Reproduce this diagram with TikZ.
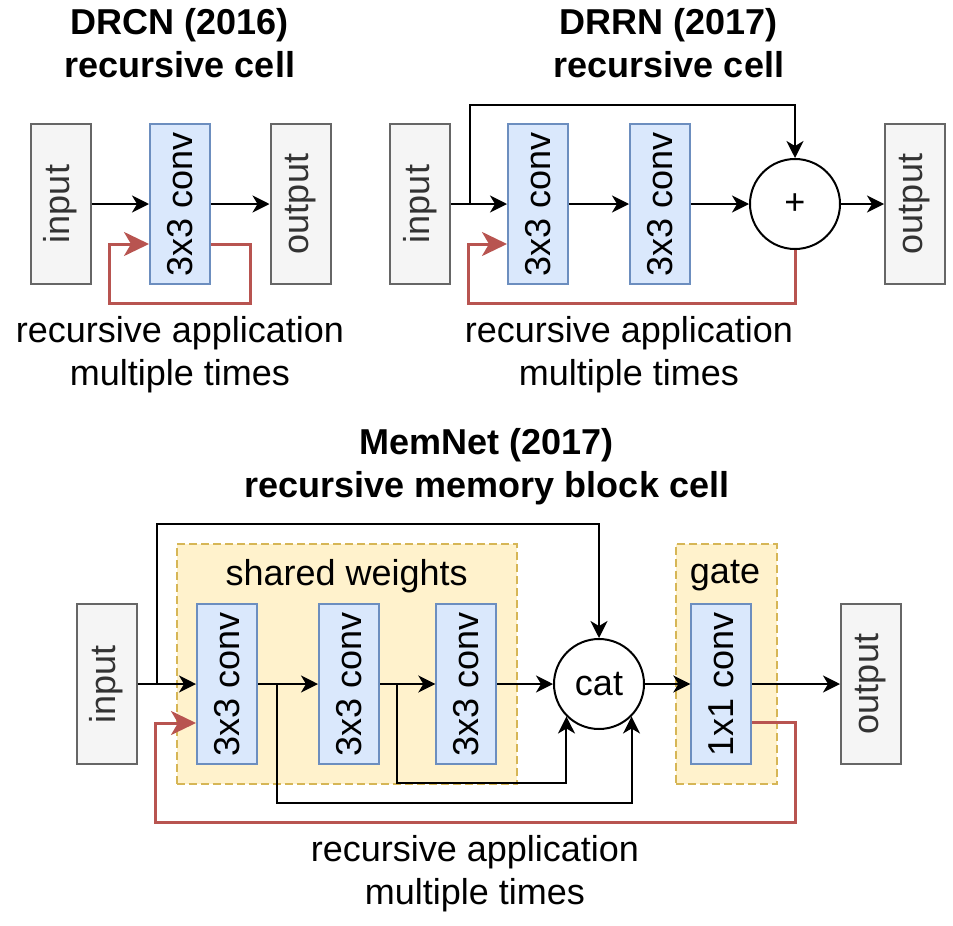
\documentclass[tikz,border=0pt]{standalone}
\usepackage{fontspec}
\setmainfont{Liberation Sans}
\usetikzlibrary{arrows.meta,calc}
\definecolor{grayfill}{HTML}{F5F5F5}
\definecolor{graystroke}{HTML}{666666}
\definecolor{graytext}{HTML}{333333}
\definecolor{bluefill}{HTML}{DAE8FC}
\definecolor{bluestroke}{HTML}{6C8EBF}
\definecolor{yelfill}{HTML}{FFF2CC}
\definecolor{yelstroke}{HTML}{D6B656}
\definecolor{recred}{HTML}{B85450}
\begin{document}
\begin{tikzpicture}[x=0.5pt,y=-0.5pt,
  every node/.style={font=\fontsize{18}{21.5}\selectfont},
  io/.style={draw=graystroke, fill=grayfill, text=graytext, line width=1pt,
    minimum width=30pt, minimum height=80pt, inner sep=0pt},
  conv/.style={draw=bluestroke, fill=bluefill, line width=1pt,
    minimum width=30pt, minimum height=80pt, inner sep=0pt},
  op/.style={circle, draw=black, fill=white, line width=1pt, minimum size=45pt, inner sep=0pt},
  region/.style={draw=yelstroke, fill=yelfill, line width=1pt, dash pattern=on 4pt off 2pt,
    minimum height=120pt, inner sep=0pt},
  arr/.style={line width=1pt, -{Stealth[length=8.5pt,width=8.5pt,inset=2.5pt]}},
  rec/.style={draw=recred, line width=1.5pt, -{Stealth[length=12.5pt,width=12pt,inset=3.5pt]}},
  title/.style={font=\bfseries\fontsize{18}{21.5}\selectfont, align=center},
  note/.style={align=center}
]
\useasboundingbox (0,0) rectangle (953,926);

% ---------------- DRCN ----------------
\node[title] (t1) at (180,43.4) {DRCN (2016)\\recursive cell};
\node[io] (in1) at (60.5,204) {\rotatebox{90}{input}};
\node[conv] (c1) at (180,204) {\rotatebox{90}{3x3 conv}};
\node[io] (out1) at (300.5,204) {\rotatebox{90}{output}};
\draw[arr] (in1) -- (c1);
\draw[arr] (c1) -- (out1);
\draw[rec] ([yshift=-20pt]c1.east) -| (250,303) -| (109,244) -- ([yshift=-20pt]c1.west);
\node[note] (n1) at (180,354.7) {recursive application\\multiple times};

% ---------------- DRRN ----------------
\node[title] (t2) at (669,43.4) {DRRN (2017)\\recursive cell};
\node[io] (in2) at (420,204) {\rotatebox{90}{input}};
\node[conv] (d1) at (538,204) {\rotatebox{90}{3x3 conv}};
\node[conv] (d2) at (660,204) {\rotatebox{90}{3x3 conv}};
\node[op] (plus) at (795,204) {+};
\node[io] (out2) at (915,204) {\rotatebox{90}{output}};
\coordinate (s2) at (470,204);
\draw[arr] (in2) -- (d1);
\draw[arr] (d1) -- (d2);
\draw[arr] (d2) -- (plus);
\draw[arr] (plus) -- (out2);
\draw[arr] (s2) -- (470,105) -| (plus.north);
\draw[rec] (plus.south) -- (795,303) -| (468,244) -- ([yshift=-20pt]d1.west);
\node[note] (n2) at (629,354.7) {recursive application\\multiple times};

% ---------------- MemNet ----------------
\node[title] (t3) at (487,467) {MemNet (2017)\\recursive memory block cell};
\node[region, minimum width=170pt] (sw) at (346.7,664) {};
\node[anchor=base] (swl) at (346.7,585) {shared weights};
\node[region, minimum width=50.35pt] (gt) at (726.35,664) {};
\node[anchor=base] (gtl) at (725,583) {gate};
\node[io] (in3) at (106.5,684) {\rotatebox{90}{input}};
\node[conv] (m1) at (227,684) {\rotatebox{90}{3x3 conv}};
\node[conv] (m2) at (349,684) {\rotatebox{90}{3x3 conv}};
\node[conv] (m3) at (466.3,684) {\rotatebox{90}{3x3 conv}};
\node[op] (cat) at (599,684) {cat};
\node[conv] (g1) at (721.3,684) {\rotatebox{90}{1x1 conv}};
\node[io] (out3) at (871,684) {\rotatebox{90}{output}};
\coordinate (s3) at (157,684);
\coordinate (b1) at (276.7,684);
\coordinate (b2) at (396.7,684);
\draw[arr] (in3) -- (m1);
\draw[arr] (m1) -- (m2);
\draw[arr] (m2) -- (m3);
\draw[arr] (m3) -- (cat);
\draw[arr] (cat) -- (g1);
\draw[arr] (g1) -- (out3);
\draw[arr] (s3) -- (157,524) -| (cat.north);
\draw[arr] (b1) -- (276.7,803.3) -| (cat.-45);
\draw[arr] (b2) -- (396.7,783.3) -| (cat.-135);
\draw[rec] ([yshift=-19.25pt]g1.east) -| (795.7,822.7) -| (155.7,723) -- ([yshift=-19.5pt]m1.west);
\node[note] (n3) at (475,873.7) {recursive application\\multiple times};
\end{tikzpicture}
\end{document}
